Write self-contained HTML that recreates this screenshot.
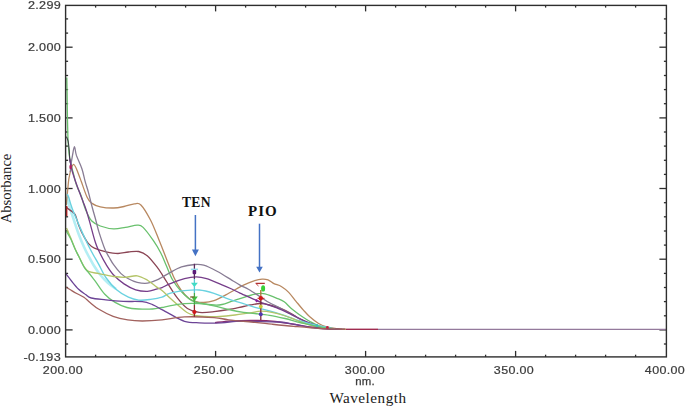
<!DOCTYPE html>
<html><head><meta charset="utf-8">
<style>
html,body{margin:0;padding:0;background:#fff;}
body{width:685px;height:407px;position:relative;overflow:hidden;font-family:"Liberation Sans",sans-serif;}
svg{position:absolute;left:0;top:0;filter:blur(0.3px);}
.yl{position:absolute;right:624.0px;width:60px;text-align:right;font-size:10.5px;line-height:12px;color:#3c3c3c;letter-spacing:0.25px;-webkit-text-stroke:0.2px #3c3c3c;transform:scaleX(1.2);transform-origin:right center;}
.xl{position:absolute;top:364.6px;width:60px;text-align:center;font-size:10.4px;line-height:12px;color:#3c3c3c;letter-spacing:0.3px;-webkit-text-stroke:0.2px #3c3c3c;transform:scaleX(1.2);transform-origin:center center;}
.nm{position:absolute;left:344px;top:375.6px;width:42px;text-align:center;font-size:10.2px;line-height:12px;color:#3c3c3c;letter-spacing:0.2px;-webkit-text-stroke:0.25px #3c3c3c;transform:scaleX(1.12);}
.wl{position:absolute;left:318px;top:388.6px;width:100px;text-align:center;font-family:"Liberation Serif",serif;font-size:15.2px;line-height:17px;color:#1a1a1a;letter-spacing:0.5px;}
.ab{position:absolute;left:-44px;top:180px;width:100px;height:17px;text-align:center;font-family:"Liberation Serif",serif;font-size:14.6px;line-height:17px;color:#1a1a1a;transform:rotate(-90deg);}
.lab{position:absolute;font-family:"Liberation Serif",serif;font-weight:bold;font-size:14px;line-height:16px;color:#111;}
</style></head><body>
<svg width="685" height="407" viewBox="0 0 685 407">
<g stroke="#2e2e2e" stroke-width="1.3" fill="none">
<line x1="65.6" y1="344.0" x2="68.1" y2="344.0"/>
<line x1="666.4" y1="344.0" x2="663.9" y2="344.0"/>
<line x1="65.6" y1="329.9" x2="72.6" y2="329.9"/>
<line x1="666.4" y1="329.9" x2="659.4" y2="329.9"/>
<line x1="65.6" y1="315.8" x2="68.1" y2="315.8"/>
<line x1="666.4" y1="315.8" x2="663.9" y2="315.8"/>
<line x1="65.6" y1="301.6" x2="68.1" y2="301.6"/>
<line x1="666.4" y1="301.6" x2="663.9" y2="301.6"/>
<line x1="65.6" y1="287.5" x2="68.1" y2="287.5"/>
<line x1="666.4" y1="287.5" x2="663.9" y2="287.5"/>
<line x1="65.6" y1="273.4" x2="68.1" y2="273.4"/>
<line x1="666.4" y1="273.4" x2="663.9" y2="273.4"/>
<line x1="65.6" y1="259.2" x2="72.6" y2="259.2"/>
<line x1="666.4" y1="259.2" x2="659.4" y2="259.2"/>
<line x1="65.6" y1="245.1" x2="68.1" y2="245.1"/>
<line x1="666.4" y1="245.1" x2="663.9" y2="245.1"/>
<line x1="65.6" y1="231.0" x2="68.1" y2="231.0"/>
<line x1="666.4" y1="231.0" x2="663.9" y2="231.0"/>
<line x1="65.6" y1="216.8" x2="68.1" y2="216.8"/>
<line x1="666.4" y1="216.8" x2="663.9" y2="216.8"/>
<line x1="65.6" y1="202.7" x2="68.1" y2="202.7"/>
<line x1="666.4" y1="202.7" x2="663.9" y2="202.7"/>
<line x1="65.6" y1="188.5" x2="72.6" y2="188.5"/>
<line x1="666.4" y1="188.5" x2="659.4" y2="188.5"/>
<line x1="65.6" y1="174.4" x2="68.1" y2="174.4"/>
<line x1="666.4" y1="174.4" x2="663.9" y2="174.4"/>
<line x1="65.6" y1="160.3" x2="68.1" y2="160.3"/>
<line x1="666.4" y1="160.3" x2="663.9" y2="160.3"/>
<line x1="65.6" y1="146.1" x2="68.1" y2="146.1"/>
<line x1="666.4" y1="146.1" x2="663.9" y2="146.1"/>
<line x1="65.6" y1="132.0" x2="68.1" y2="132.0"/>
<line x1="666.4" y1="132.0" x2="663.9" y2="132.0"/>
<line x1="65.6" y1="117.9" x2="72.6" y2="117.9"/>
<line x1="666.4" y1="117.9" x2="659.4" y2="117.9"/>
<line x1="65.6" y1="103.7" x2="68.1" y2="103.7"/>
<line x1="666.4" y1="103.7" x2="663.9" y2="103.7"/>
<line x1="65.6" y1="89.6" x2="68.1" y2="89.6"/>
<line x1="666.4" y1="89.6" x2="663.9" y2="89.6"/>
<line x1="65.6" y1="75.5" x2="68.1" y2="75.5"/>
<line x1="666.4" y1="75.5" x2="663.9" y2="75.5"/>
<line x1="65.6" y1="61.3" x2="68.1" y2="61.3"/>
<line x1="666.4" y1="61.3" x2="663.9" y2="61.3"/>
<line x1="65.6" y1="47.2" x2="72.6" y2="47.2"/>
<line x1="666.4" y1="47.2" x2="659.4" y2="47.2"/>
<line x1="65.6" y1="33.1" x2="68.1" y2="33.1"/>
<line x1="666.4" y1="33.1" x2="663.9" y2="33.1"/>
<line x1="65.6" y1="18.9" x2="68.1" y2="18.9"/>
<line x1="666.4" y1="18.9" x2="663.9" y2="18.9"/>
<line x1="95.6" y1="5.4" x2="95.6" y2="7.6"/>
<line x1="95.6" y1="356.9" x2="95.6" y2="354.7"/>
<line x1="125.6" y1="5.4" x2="125.6" y2="7.6"/>
<line x1="125.6" y1="356.9" x2="125.6" y2="354.7"/>
<line x1="155.6" y1="5.4" x2="155.6" y2="7.6"/>
<line x1="155.6" y1="356.9" x2="155.6" y2="354.7"/>
<line x1="185.6" y1="5.4" x2="185.6" y2="7.6"/>
<line x1="185.6" y1="356.9" x2="185.6" y2="354.7"/>
<line x1="215.6" y1="5.4" x2="215.6" y2="11.4"/>
<line x1="215.6" y1="356.9" x2="215.6" y2="350.9"/>
<line x1="245.6" y1="5.4" x2="245.6" y2="7.6"/>
<line x1="245.6" y1="356.9" x2="245.6" y2="354.7"/>
<line x1="275.6" y1="5.4" x2="275.6" y2="7.6"/>
<line x1="275.6" y1="356.9" x2="275.6" y2="354.7"/>
<line x1="305.6" y1="5.4" x2="305.6" y2="7.6"/>
<line x1="305.6" y1="356.9" x2="305.6" y2="354.7"/>
<line x1="335.6" y1="5.4" x2="335.6" y2="7.6"/>
<line x1="335.6" y1="356.9" x2="335.6" y2="354.7"/>
<line x1="365.6" y1="5.4" x2="365.6" y2="11.4"/>
<line x1="365.6" y1="356.9" x2="365.6" y2="350.9"/>
<line x1="395.6" y1="5.4" x2="395.6" y2="7.6"/>
<line x1="395.6" y1="356.9" x2="395.6" y2="354.7"/>
<line x1="425.6" y1="5.4" x2="425.6" y2="7.6"/>
<line x1="425.6" y1="356.9" x2="425.6" y2="354.7"/>
<line x1="455.6" y1="5.4" x2="455.6" y2="7.6"/>
<line x1="455.6" y1="356.9" x2="455.6" y2="354.7"/>
<line x1="485.6" y1="5.4" x2="485.6" y2="7.6"/>
<line x1="485.6" y1="356.9" x2="485.6" y2="354.7"/>
<line x1="515.6" y1="5.4" x2="515.6" y2="11.4"/>
<line x1="515.6" y1="356.9" x2="515.6" y2="350.9"/>
<line x1="545.6" y1="5.4" x2="545.6" y2="7.6"/>
<line x1="545.6" y1="356.9" x2="545.6" y2="354.7"/>
<line x1="575.6" y1="5.4" x2="575.6" y2="7.6"/>
<line x1="575.6" y1="356.9" x2="575.6" y2="354.7"/>
<line x1="605.6" y1="5.4" x2="605.6" y2="7.6"/>
<line x1="605.6" y1="356.9" x2="605.6" y2="354.7"/>
<line x1="635.6" y1="5.4" x2="635.6" y2="7.6"/>
<line x1="635.6" y1="356.9" x2="635.6" y2="354.7"/>
</g>

<line x1="330" y1="329.3" x2="346" y2="329.3" stroke="#9a7a46" stroke-width="1.3"/>
<line x1="346" y1="329.3" x2="378" y2="329.3" stroke="#a02c50" stroke-width="1.4"/>
<line x1="378" y1="329.4" x2="666" y2="329.4" stroke="#947a9c" stroke-width="1.4"/>

<path d="M66.6 197.0 C66.8 197.8 67.3 199.8 68.0 202.0 C68.7 204.2 69.4 206.7 70.5 210.0 C71.6 213.3 73.1 217.8 74.5 222.0 C75.9 226.2 77.4 230.8 79.0 235.0 C80.6 239.2 82.4 243.5 84.0 247.0 C85.6 250.5 86.9 253.0 88.5 256.0 C90.1 259.0 91.6 261.9 93.5 265.0 C95.4 268.1 97.6 271.5 100.0 274.5 C102.4 277.5 105.3 280.6 108.0 283.0 C110.7 285.4 114.7 288.0 116.0 289.0" stroke="#b4eef4" stroke-width="2.60" fill="none" stroke-linejoin="round"/>
<path d="M66.3 205.0 C66.5 202.8 67.0 196.5 67.5 192.0 C68.0 187.5 68.3 182.0 69.0 178.0 C69.7 174.0 70.7 170.2 71.5 168.0 C72.3 165.8 72.9 164.2 73.8 164.5 C74.7 164.8 75.5 166.7 76.7 169.5 C77.9 172.3 79.5 176.7 81.2 181.3 C82.9 185.9 85.3 193.4 87.0 197.0 C88.7 200.6 89.3 201.5 91.5 203.1 C93.7 204.7 96.6 206.0 100.3 206.8 C104.0 207.6 109.6 208.1 113.6 208.0 C117.5 207.9 120.5 207.2 124.0 206.5 C127.5 205.8 131.5 204.1 134.3 203.8 C137.1 203.6 138.2 202.3 140.9 205.0 C143.6 207.7 147.4 214.1 150.5 220.0 C153.6 225.9 156.6 234.2 159.3 240.7 C162.0 247.2 164.1 252.9 166.5 259.0 C168.9 265.1 171.3 271.8 173.7 277.0 C176.1 282.2 178.4 286.4 181.0 290.0 C183.6 293.6 186.5 296.6 189.0 298.5 C191.5 300.4 193.6 300.8 196.0 301.5 C198.4 302.2 200.7 302.6 203.7 302.5 C206.7 302.4 209.8 302.1 214.0 300.6 C218.2 299.1 223.8 295.9 228.7 293.3 C233.6 290.7 239.2 287.3 243.5 285.2 C247.8 283.1 251.6 281.6 254.7 280.6 C257.8 279.6 259.9 279.3 262.1 279.2 C264.3 279.1 266.0 279.2 268.0 279.9 C270.0 280.6 271.7 282.5 273.9 283.6 C276.1 284.7 278.8 285.0 281.3 286.5 C283.8 288.0 286.2 289.9 288.7 292.4 C291.1 294.9 293.6 298.4 296.0 301.3 C298.4 304.2 301.1 307.6 303.4 310.1 C305.6 312.6 307.0 314.3 309.5 316.5 C312.0 318.7 315.6 321.7 318.6 323.5 C321.6 325.3 324.2 326.2 327.4 327.1 C330.6 328.0 334.5 328.2 337.6 328.6 C340.7 329.0 344.6 329.2 346.0 329.3" stroke="#b88860" stroke-width="1.30" fill="none" stroke-linejoin="round"/>
<path d="M66.8 77.5 C66.9 81.2 67.1 92.1 67.2 100.0 C67.3 107.9 67.4 117.5 67.6 125.0 C67.8 132.5 67.9 139.2 68.3 145.0 C68.7 150.8 69.2 155.5 70.0 160.0 C70.8 164.5 71.9 167.8 73.0 172.0 C74.1 176.2 75.1 181.0 76.5 185.0 C77.9 189.0 79.7 191.9 81.2 196.0 C82.7 200.1 83.9 205.6 85.6 209.7 C87.3 213.8 89.0 218.1 91.5 220.8 C94.0 223.5 96.6 224.7 100.3 226.0 C104.0 227.3 109.4 228.7 113.6 228.9 C117.8 229.1 121.5 228.0 125.4 227.4 C129.3 226.8 134.2 225.2 137.2 225.2 C140.1 225.2 140.4 224.8 143.1 227.4 C145.8 230.0 150.4 236.4 153.4 240.7 C156.4 245.0 158.6 248.8 160.8 253.0 C163.0 257.2 164.5 261.5 166.5 266.0 C168.5 270.5 170.2 275.7 172.7 280.0 C175.2 284.3 178.3 288.4 181.5 291.8 C184.7 295.2 188.5 298.7 191.9 300.6 C195.3 302.5 198.3 302.7 202.0 303.4 C205.7 304.1 210.7 304.8 214.0 305.0 C217.3 305.2 218.8 305.2 222.0 304.5 C225.2 303.8 229.3 302.0 233.0 300.8 C236.7 299.6 241.2 298.2 244.0 297.3 C246.8 296.4 248.2 296.0 250.0 295.5 C251.8 295.0 253.3 294.6 255.0 294.2 C256.7 293.8 258.3 293.4 260.0 293.4 C261.7 293.3 262.3 293.1 265.1 293.9 C267.9 294.7 273.7 297.0 276.9 298.3 C280.1 299.6 281.8 300.1 284.2 301.8 C286.6 303.5 288.6 306.2 291.6 308.7 C294.6 311.1 298.9 314.4 302.0 316.5 C305.1 318.6 307.5 320.1 310.0 321.5 C312.5 322.9 314.2 323.9 317.0 325.0 C319.8 326.1 323.5 327.3 327.0 328.0 C330.5 328.7 336.2 329.1 338.0 329.3" stroke="#68c06c" stroke-width="1.30" fill="none" stroke-linejoin="round"/>
<path d="M66.0 206.0 C66.2 206.4 66.5 207.4 67.5 208.3 C68.5 209.2 70.7 210.5 72.0 211.6 C73.3 212.7 74.2 212.7 75.3 214.9 C76.4 217.1 77.3 221.6 78.6 224.9 C79.9 228.2 81.3 231.7 83.0 234.8 C84.7 237.9 86.6 241.5 88.5 243.7 C90.4 245.9 91.5 246.8 94.4 248.1 C97.4 249.4 102.3 250.9 106.2 251.8 C110.1 252.7 114.3 253.5 118.0 253.5 C121.7 253.5 125.0 252.3 128.4 252.0 C131.8 251.7 135.5 250.8 138.7 251.5 C141.9 252.2 144.6 253.5 147.5 255.9 C150.4 258.4 154.0 263.1 156.4 266.2 C158.8 269.3 160.3 271.7 162.0 274.3 C163.7 276.9 164.3 278.1 166.8 282.0 C169.3 285.9 173.7 293.3 177.1 297.7 C180.5 302.1 183.7 306.1 187.4 308.5 C191.1 310.9 194.8 311.9 199.2 312.4 C203.6 312.9 209.1 312.2 214.0 311.7 C218.9 311.2 223.8 310.4 228.7 309.5 C233.6 308.6 239.9 307.2 243.5 306.5 C247.1 305.8 247.5 305.5 250.3 305.0 C253.2 304.5 257.4 303.5 260.6 303.5 C263.8 303.5 266.1 304.1 269.5 305.0 C272.9 305.9 277.6 307.2 281.3 308.7 C285.0 310.2 288.7 312.2 291.6 313.8 C294.6 315.4 295.9 316.9 299.0 318.5 C302.1 320.1 306.5 322.2 310.0 323.5 C313.5 324.8 316.7 325.7 320.0 326.5 C323.3 327.3 326.3 327.8 330.0 328.3 C333.7 328.8 340.0 329.1 342.0 329.3" stroke="#8a4454" stroke-width="1.30" fill="none" stroke-linejoin="round"/>
<path d="M70.2 172.0 C70.4 170.3 71.0 164.8 71.4 162.0 C71.8 159.2 72.0 158.0 72.5 155.4 C73.0 152.8 73.8 146.6 74.4 146.6 C75.1 146.6 75.2 151.7 76.4 155.4 C77.7 159.1 80.4 164.3 81.9 168.7 C83.4 173.1 84.1 177.6 85.2 181.6 C86.3 185.6 87.3 188.2 88.5 192.6 C89.7 197.0 91.2 203.6 92.4 208.0 C93.6 212.4 94.4 215.0 95.5 219.0 C96.6 223.0 97.4 226.9 98.9 231.9 C100.5 236.9 103.1 244.8 104.8 249.0 C106.5 253.2 107.5 254.4 109.0 257.0 C110.5 259.6 111.6 261.9 113.6 264.7 C115.6 267.5 118.5 271.2 121.0 273.6 C123.5 276.0 125.7 277.3 128.4 278.8 C131.1 280.3 134.0 281.7 137.2 282.4 C140.4 283.1 144.3 283.6 147.5 283.2 C150.7 282.8 154.0 281.2 156.4 280.2 C158.8 279.2 159.8 278.5 162.0 277.3 C164.2 276.1 166.4 274.5 169.7 272.8 C172.9 271.1 177.3 268.3 181.5 266.9 C185.7 265.5 191.1 264.8 194.8 264.5 C198.5 264.2 200.0 264.1 203.7 265.2 C207.4 266.3 212.3 268.8 217.0 271.3 C221.7 273.8 227.9 277.8 231.7 280.1 C235.5 282.4 237.2 283.5 240.0 285.1 C242.8 286.7 245.6 287.7 248.8 289.5 C252.0 291.3 255.8 293.9 259.2 296.1 C262.6 298.3 265.8 300.7 269.5 302.8 C273.2 304.9 276.9 306.3 281.3 308.7 C285.7 311.1 291.6 314.6 296.0 317.0 C300.4 319.4 304.0 321.3 308.0 323.0 C312.0 324.7 315.5 326.0 320.0 327.0 C324.5 328.0 332.5 328.8 335.0 329.2" stroke="#887c94" stroke-width="1.30" fill="none" stroke-linejoin="round"/>
<path d="M66.4 136.6 C66.7 137.3 67.6 138.8 68.1 141.0 C68.6 143.2 68.9 147.1 69.2 150.0 C69.5 152.9 69.4 156.2 69.7 158.7 C70.0 161.2 70.6 163.9 70.8 165.0" stroke="#3c3c44" stroke-width="1.10" fill="none" stroke-linejoin="round"/>
<path d="M69.7 158.7 C70.0 160.2 70.9 165.0 71.4 167.5 C72.0 170.0 72.0 170.5 73.0 173.8 C74.0 177.1 75.8 182.5 77.5 187.1 C79.2 191.7 81.6 197.8 83.0 201.5 C84.4 205.2 84.9 206.2 86.0 209.5 C87.1 212.8 88.1 216.3 89.6 221.6 C91.1 226.9 93.5 236.6 95.1 241.5 C96.6 246.4 97.1 247.1 98.9 251.0 C100.8 254.9 103.8 260.7 106.2 264.7 C108.7 268.7 110.6 271.8 113.6 275.0 C116.6 278.2 120.3 281.4 124.0 283.9 C127.7 286.4 131.8 288.6 135.7 289.8 C139.6 291.0 144.1 291.4 147.5 291.3 C150.9 291.2 154.0 289.7 156.4 289.1 C158.8 288.5 159.8 288.5 162.0 287.6 C164.2 286.7 165.9 285.3 169.7 283.8 C173.4 282.3 180.1 279.9 184.5 278.7 C188.9 277.5 192.6 276.9 196.3 276.9 C200.0 276.9 202.4 277.4 206.6 278.7 C210.8 280.0 217.2 282.9 221.4 284.6 C225.6 286.3 228.6 287.6 231.7 289.0 C234.8 290.4 236.7 291.6 240.0 293.2 C243.3 294.8 248.1 296.7 251.8 298.3 C255.5 299.9 257.9 301.2 262.1 302.8 C266.3 304.4 272.0 305.9 276.9 307.9 C281.8 309.9 286.9 312.4 291.6 314.6 C296.3 316.8 300.6 319.1 305.0 321.0 C309.4 322.9 313.5 324.6 318.0 326.0 C322.5 327.4 329.7 328.7 332.0 329.2" stroke="#763e8a" stroke-width="1.30" fill="none" stroke-linejoin="round"/>
<path d="M67.2 194.0 C67.4 194.5 68.0 195.2 68.6 197.0 C69.2 198.8 70.0 202.0 70.8 204.5 C71.6 207.0 72.0 208.2 73.5 212.0 C75.0 215.8 77.8 222.2 79.9 227.1 C82.0 232.0 84.5 237.4 86.3 241.2 C88.1 245.0 89.3 247.4 90.7 250.0 C92.1 252.6 93.1 254.6 94.5 257.0 C95.9 259.4 97.0 261.2 98.9 264.7 C100.9 268.2 103.2 273.8 106.2 278.0 C109.2 282.2 112.9 286.6 116.6 289.8 C120.3 293.0 124.7 295.5 128.4 297.2 C132.1 298.9 135.0 299.7 138.7 300.1 C142.4 300.5 146.6 299.9 150.5 299.4 C154.4 298.9 158.8 298.2 162.0 297.2 C165.2 296.2 165.9 294.4 169.7 293.3 C173.4 292.2 179.6 291.2 184.5 290.6 C189.4 290.1 194.3 289.6 199.2 290.0 C204.1 290.4 209.1 291.8 214.0 293.3 C218.9 294.8 223.8 297.5 228.7 299.2 C233.6 300.9 239.1 302.2 243.5 303.6 C247.9 305.0 250.7 306.1 255.0 307.3 C259.3 308.5 264.6 309.6 269.5 310.9 C274.4 312.2 279.1 313.6 284.2 315.3 C289.3 317.0 294.5 319.3 300.0 321.0 C305.5 322.7 311.2 324.2 317.0 325.5 C322.8 326.8 332.0 328.4 335.0 329.0" stroke="#6ad2e0" stroke-width="1.40" fill="none" stroke-linejoin="round"/>
<path d="M66.6 228.0 C67.3 229.7 69.3 234.6 70.8 238.1 C72.2 241.6 74.0 246.2 75.3 249.2 C76.6 252.2 77.1 253.1 78.6 256.0 C80.1 258.9 82.4 263.9 84.1 266.5 C85.8 269.1 86.0 270.2 88.5 271.4 C91.0 272.6 94.7 272.8 98.9 273.6 C103.1 274.5 109.2 275.9 113.6 276.5 C118.0 277.1 121.5 277.4 125.4 277.3 C129.3 277.2 133.5 275.3 137.2 275.8 C140.9 276.3 144.3 278.4 147.5 280.2 C150.7 282.0 154.0 285.2 156.4 286.9 C158.8 288.6 159.8 288.8 162.0 290.6 C164.2 292.4 166.9 295.1 169.7 297.7 C172.5 300.3 176.1 303.5 179.0 306.0 C181.9 308.5 184.3 310.9 187.0 312.5 C189.7 314.1 192.0 314.8 195.0 315.5 C198.0 316.2 200.8 316.3 205.0 316.5 C209.2 316.7 215.0 316.8 220.0 316.5 C225.0 316.2 230.0 315.6 235.0 315.0 C240.0 314.4 245.7 313.4 250.0 312.8 C254.3 312.2 257.3 311.3 261.0 311.2 C264.7 311.1 268.2 311.6 272.0 312.3 C275.8 313.0 280.0 314.2 284.0 315.5 C288.0 316.8 292.0 318.5 296.0 320.0 C300.0 321.5 304.0 323.2 308.0 324.5 C312.0 325.8 315.7 326.7 320.0 327.5 C324.3 328.3 331.7 328.9 334.0 329.2" stroke="#b4c468" stroke-width="1.30" fill="none" stroke-linejoin="round"/>
<path d="M215.0 322.6 C217.8 322.3 224.8 321.2 232.0 320.8 C239.2 320.4 250.8 320.3 258.0 320.4 C265.2 320.5 268.8 320.8 275.0 321.5 C281.2 322.2 288.3 323.5 295.0 324.5 C301.7 325.5 308.3 326.7 315.0 327.5 C321.7 328.3 331.7 329.0 335.0 329.3" stroke="#8a2a6a" stroke-width="1.30" fill="none" stroke-linejoin="round"/>
<path d="M66.2 231.0 C67.0 232.3 69.3 235.9 70.8 239.0 C72.3 242.1 74.0 246.7 75.3 249.5 C76.6 252.3 77.1 253.1 78.6 256.0 C80.1 258.9 82.4 264.4 84.1 267.1 C85.8 269.9 87.0 270.7 88.5 272.5 C90.0 274.3 91.6 276.4 92.9 278.1 C94.2 279.8 94.3 279.9 96.3 282.6 C98.3 285.3 101.7 290.9 104.8 294.2 C107.9 297.5 111.4 300.2 115.1 302.4 C118.8 304.6 123.0 306.4 126.9 307.5 C130.8 308.6 134.4 308.8 138.7 309.0 C143.0 309.2 148.6 309.2 152.5 309.0 C156.4 308.8 159.1 308.0 162.0 307.5 C164.9 307.0 165.9 306.4 169.7 305.8 C173.4 305.2 179.6 304.0 184.5 303.6 C189.4 303.2 194.3 303.2 199.2 303.6 C204.1 304.0 209.1 304.8 214.0 305.8 C218.9 306.8 223.8 308.4 228.7 309.5 C233.6 310.6 239.1 311.7 243.5 312.4 C247.9 313.1 250.7 313.0 255.0 313.5 C259.3 314.0 264.5 314.5 269.5 315.3 C274.5 316.1 279.9 317.3 285.0 318.5 C290.1 319.7 294.7 321.2 300.0 322.5 C305.3 323.8 311.2 325.4 317.0 326.5 C322.8 327.6 332.0 328.8 335.0 329.2" stroke="#6cc470" stroke-width="1.30" fill="none" stroke-linejoin="round"/>
<path d="M65.8 273.7 C66.8 275.0 69.8 278.9 71.9 281.5 C74.0 284.1 76.3 287.0 78.6 289.2 C80.9 291.4 83.5 293.0 85.6 294.5 C87.7 296.0 87.8 297.1 91.2 298.0 C94.6 298.9 100.5 299.3 105.8 299.9 C111.1 300.5 117.2 301.1 123.3 301.4 C129.4 301.7 137.4 301.2 142.3 301.7 C147.2 302.2 149.2 303.3 152.5 304.6 C155.8 305.9 159.1 308.1 162.0 309.7 C164.9 311.2 165.9 312.0 169.7 313.9 C173.4 315.8 179.6 319.8 184.5 321.3 C189.4 322.8 193.0 322.6 199.2 322.8 C205.3 323.1 215.2 323.1 221.4 322.8 C227.6 322.6 230.5 321.5 236.1 321.3 C241.7 321.1 247.8 321.4 255.0 321.5 C262.2 321.6 272.7 321.6 279.2 322.0 C285.7 322.4 288.9 323.3 293.8 324.2 C298.7 325.1 303.2 326.3 308.4 327.1 C313.6 327.9 318.9 328.4 325.0 328.8 C331.1 329.2 341.7 329.3 345.0 329.4" stroke="#6c4496" stroke-width="1.30" fill="none" stroke-linejoin="round"/>
<path d="M65.8 287.0 C66.6 287.5 69.0 288.9 70.8 290.0 C72.6 291.1 74.5 292.3 76.7 293.5 C78.9 294.7 81.7 295.8 83.9 297.3 C86.1 298.8 87.6 300.6 90.0 302.5 C92.4 304.4 94.7 306.7 98.5 309.0 C102.3 311.3 108.2 314.5 113.1 316.3 C118.0 318.1 122.8 319.1 127.7 319.9 C132.6 320.7 136.6 321.0 142.3 321.0 C148.0 321.0 155.0 320.6 162.0 319.9 C169.0 319.2 175.8 317.3 184.5 316.9 C193.2 316.5 206.6 317.1 214.0 317.6 C221.4 318.1 221.9 319.0 228.7 319.8 C235.5 320.6 247.8 321.6 255.0 322.3 C262.2 323.0 265.4 323.5 271.9 324.2 C278.4 324.9 285.8 325.7 293.8 326.4 C301.8 327.1 311.5 328.0 320.0 328.5 C328.5 329.0 340.8 329.2 345.0 329.4" stroke="#a2625e" stroke-width="1.30" fill="none" stroke-linejoin="round"/>

<!-- TEN marker column -->
<line x1="194.4" y1="263.8" x2="194.4" y2="279" stroke="#5a2a5e" stroke-width="1.3"/>
<line x1="194.4" y1="279" x2="194.4" y2="293" stroke="#58c8d8" stroke-width="1.3"/>
<line x1="194.4" y1="293" x2="194.4" y2="305" stroke="#48a848" stroke-width="1.3"/>
<line x1="194.4" y1="305" x2="194.4" y2="316.8" stroke="#8a2a30" stroke-width="1.3"/>
<path d="M190.8 269.4 L198 269.4" stroke="#90dcec" stroke-width="1.6"/>
<rect x="192.6" y="270" width="3.6" height="4.2" rx="1" fill="#5a1a78"/>
<path d="M190.9 282.8 L197.9 282.8 L194.4 287 Z" fill="#40dcc4"/>
<path d="M191 296.4 L197.8 296.4 L194.4 301.2 Z" fill="#40c040"/>
<line x1="190" y1="297" x2="194.4" y2="297" stroke="#8a4a2a" stroke-width="1"/>
<circle cx="194.4" cy="312" r="2.1" fill="#d01818"/>
<!-- PIO marker column -->
<line x1="260.8" y1="290" x2="260.8" y2="297" stroke="#b07a40" stroke-width="1.4"/>
<line x1="260.8" y1="297" x2="260.8" y2="320" stroke="#7a2a3a" stroke-width="1.3"/>
<path d="M255.6 283.4 L264.8 283.4" stroke="#b03030" stroke-width="1.3"/>
<path d="M256 283.6 L258.5 286" stroke="#c04040" stroke-width="1"/>
<ellipse cx="263.1" cy="288.4" rx="2" ry="3.2" fill="#38d038"/>
<circle cx="260.8" cy="298.3" r="2.2" fill="#d81818"/>
<path d="M257.5 298.3 L264.5 298.3" stroke="#c02020" stroke-width="1"/>
<path d="M256.7 299 L258.4 300.8 L256.7 302.6 L255 300.8 Z" fill="#8a20a0"/>
<circle cx="260.8" cy="306.6" r="1.9" fill="#c8c838"/>
<circle cx="260.8" cy="314.3" r="2" fill="#5038b0"/>
<!-- left axis markers -->
<rect x="65.6" y="206" width="1.8" height="10" fill="#c02020"/>
<ellipse cx="70.6" cy="167" rx="1.3" ry="2.2" fill="#b02060"/>
<!-- convergence markers -->
<circle cx="317" cy="325.5" r="1.6" fill="#40c0b0"/>
<circle cx="327.4" cy="327.4" r="1.4" fill="#c02040"/>


<line x1="195.4" y1="215" x2="195.4" y2="251" stroke="#4472c4" stroke-width="1.5"/>
<path d="M191.9 249.6 L198.9 249.6 L195.4 256.3 Z" fill="#4472c4"/>
<line x1="259.5" y1="223.7" x2="259.5" y2="267.5" stroke="#4472c4" stroke-width="1.5"/>
<path d="M256.2 266.7 L262.8 266.7 L259.5 272.6 Z" fill="#4472c4"/>

<rect x="65.6" y="5.4" width="600.8" height="351.5" fill="none" stroke="#2e2e2e" stroke-width="1.4"/>
</svg>
<div class="yl" style="top:-0.6px">2.299</div>
<div class="yl" style="top:41.2px">2.000</div>
<div class="yl" style="top:111.9px">1.500</div>
<div class="yl" style="top:182.5px">1.000</div>
<div class="yl" style="top:253.2px">0.500</div>
<div class="yl" style="top:323.9px">0.000</div>
<div class="yl" style="top:350.9px">-0.193</div>
<div class="xl" style="left:33.1px">200.00</div>
<div class="xl" style="left:184.0px">250.00</div>
<div class="xl" style="left:334.7px">300.00</div>
<div class="xl" style="left:484.0px">350.00</div>
<div class="xl" style="left:635.1px">400.00</div>
<div class="nm">nm.</div>
<div class="wl">Wavelength</div>
<div class="ab">Absorbance</div>
<div class="lab" style="left:182px;top:195.3px;font-size:13.6px;letter-spacing:0.25px;">TEN</div>
<div class="lab" style="left:248px;top:203px;font-size:15px;letter-spacing:1px;">PIO</div>
</body></html>
